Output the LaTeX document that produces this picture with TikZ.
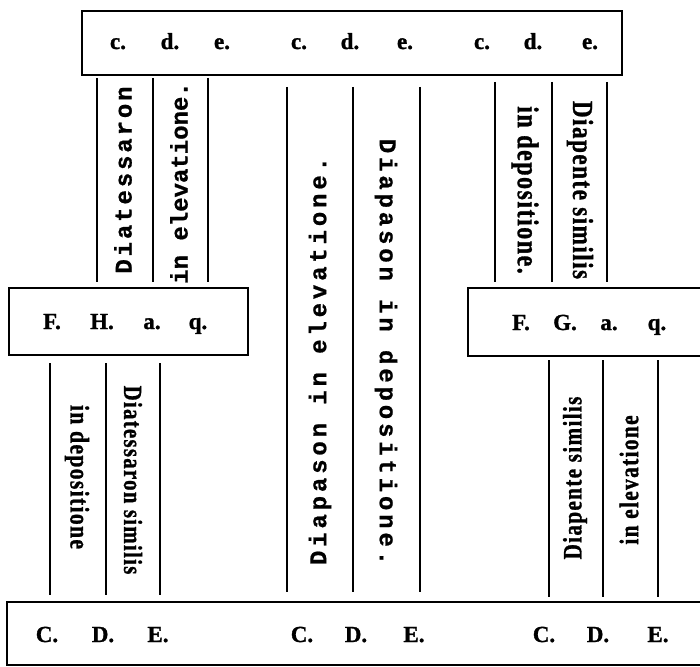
\documentclass[tikz,border=0pt]{standalone}
\usepackage{fontspec}
\setmainfont{Liberation Serif}
\newfontfamily\labfont[FakeBold=1.2]{Liberation Serif}
\newfontfamily\typeplain[FakeBold=0.8]{Liberation Mono}
\newfontfamily\typewide[LetterSpace=12,FakeBold=0.8]{Liberation Mono}
\newfontfamily\typewider[LetterSpace=16,FakeBold=0.8]{Liberation Mono}
\newfontfamily\narrowfont[FakeStretch=0.8,LetterSpace=5,FakeBold=1]{Liberation Serif}

\tikzset{
  box/.style={draw, line width=1.6pt, inner sep=0pt},
  lab/.style={font=\labfont\bfseries\fontsize{23}{23}\selectfont, anchor=base, inner sep=0pt},
  rule/.style={line width=1.6pt},
  spaced/.style={font=#1\bfseries\fontsize{24}{24}\selectfont, inner sep=0pt},
  narrow/.style={font=\narrowfont\bfseries\fontsize{#1}{#1}\selectfont, inner sep=0pt},
}

\begin{document}
\begin{tikzpicture}[x=1pt,y=-1pt]
    \useasboundingbox (0,0) rectangle (700,666);
    % the four boxes
    \node[box, minimum width=540pt, minimum height=64pt] (top) at (352,43) {};
    \node[box, minimum width=239pt, minimum height=67pt] (left) at (128.5,321.5) {};
    \node[box, minimum width=240pt, minimum height=68pt] (right) at (588,322) {};
    \node[box, minimum width=700pt, minimum height=63pt] (bottom) at (357,633.5) {};
    % letters in the boxes
    \foreach \x/\t [count=\i] in {118/c.,170/d.,222/e.,299/c.,350/d.,405/e.,482/c.,533/d.,590/e.}
        \node[lab] (t\i) at (\x,49) {\t};
    \foreach \x/\t [count=\i] in {52/F.,102/H.,152/a.,198/q.}
        \node[lab] (l\i) at (\x,329) {\t};
    \foreach \x/\t [count=\i] in {521/F.,565/G.,609/a.,657/q.}
        \node[lab] (r\i) at (\x,330) {\t};
    \foreach \x/\t [count=\i] in {47/C.,103/D.,158/E.,302/C.,356/D.,414/E.,544/C.,598/D.,658/E.}
        \node[lab] (b\i) at (\x,642) {\t};
    % column rules
    \foreach \x in {97,153,208} \draw[rule] (\x,78) -- (\x,282);
    \foreach \x in {287,353,420} \draw[rule] (\x,87) -- (\x,592);
    \foreach \x in {495,552,607} \draw[rule] (\x,82) -- (\x,282);
    \foreach \x in {50,106,160} \draw[rule] (\x,363) -- (\x,595);
    \foreach \x in {549,603,658} \draw[rule] (\x,360) -- (\x,597);
    % upright writing in the columns
    \node[spaced=\typewide, rotate=90] (diatess) at (123,180) {Diatessaron};
    \node[spaced=\typeplain, rotate=90] (elevl) at (179,183) {in elevatione.};
    \node[spaced=\typewider, rotate=90] (diapel) at (320,361) {Diapason in elevatione.};
    \node[spaced=\typewider, rotate=-90] (diapdep) at (386,352) {Diapason in depositione.};
    \node[narrow=30, rotate=-90] (depr) at (525,190) {in depositione.};
    \node[narrow=29, rotate=-90] (diapr) at (580,190) {Diapente similis};
    \node[narrow=27, rotate=-90] (depl) at (77,477) {in depositione};
    \node[narrow=26, rotate=-90] (diatsim) at (133,480) {Diatessaron similis};
    \node[narrow=26.5, rotate=90] (diapsim) at (575,478) {Diapente similis};
    \node[narrow=26.7, rotate=90] (elevr) at (629,480) {in elevatione};
\end{tikzpicture}
\end{document}
